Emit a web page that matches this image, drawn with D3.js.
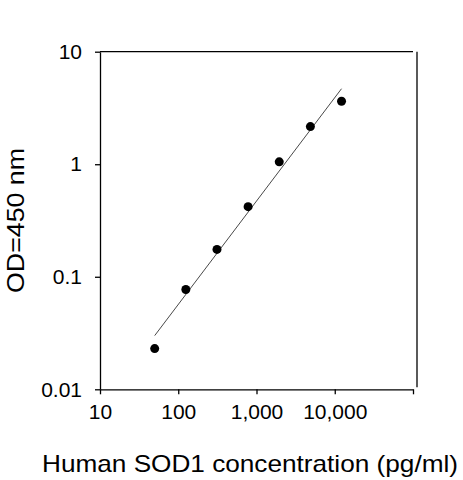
<!DOCTYPE html>
<html>
<head>
<meta charset="utf-8">
<script src="https://cdn.jsdelivr.net/npm/d3@7"></script>
<style>
  body { margin: 0; background: #fff; }
  svg { display: block; }
  text { font-family: Arial, "Liberation Sans", sans-serif; fill: #000; }
</style>
</head>
<body>
<div id="chart"></div>
<script>
// standard curve values
const concentrations = [50, 125, 312.5, 781.25, 1953, 4883, 12207];
const odValues = [0.023, 0.077, 0.175, 0.42, 1.05, 2.16, 3.63];

// fitted line endpoints
const fitConc = [50, 12207];
const fitOD = [0.030, 4.69];

const xTicks = [10, 100, 1000, 10000, 100000];
const xTickLabels = ["10", "100", "1,000", "10,000", ""];
const yTicks = [0.01, 0.1, 1, 10];
const yTickLabels = ["0.01", "0.1", "1", "10"];

const width = 463, height = 480;
const plotLeft = 100, plotRight = 413, plotTop = 51.7, plotBottom = 389.3;

const svg = d3.select('#chart').append('svg')
  .attr('width', width)
  .attr('height', height);

const x = d3.scaleLog().domain([10, 100000]).range([plotLeft, plotRight]);
const y = d3.scaleLog().domain([0.01, 10]).range([plotBottom, plotTop]);

// x axis
const xAxis = d3.axisBottom(x)
  .tickValues(xTicks)
  .tickFormat((d, i) => xTickLabels[i])
  .tickSizeInner(5)
  .tickSizeOuter(0)
  .tickPadding(10);

svg.append('g')
  .attr('transform', `translate(0,${plotBottom})`)
  .call(xAxis)
  .call(g => g.selectAll('text').style('font-size', '21px').attr('font-family', null))
  .call(g => g.selectAll('path, line').attr('stroke', '#000').attr('stroke-width', 1.3));

// y axis
const yAxis = d3.axisLeft(y)
  .tickValues(yTicks)
  .tickFormat((d, i) => yTickLabels[i])
  .tickSizeInner(5)
  .tickSizeOuter(0)
  .tickPadding(13);

svg.append('g')
  .attr('transform', `translate(${plotLeft},0)`)
  .call(yAxis)
  .call(g => g.selectAll('text').style('font-size', '21px').attr('font-family', null))
  .call(g => g.selectAll('path, line').attr('stroke', '#000').attr('stroke-width', 1.3));

// frame: top line and the slightly offset right line
svg.append('line')
  .attr('x1', plotLeft).attr('x2', plotRight)
  .attr('y1', plotTop).attr('y2', plotTop)
  .attr('stroke', '#000').attr('stroke-width', 1.3);

svg.append('line')
  .attr('x1', plotRight + 4).attr('x2', plotRight + 4)
  .attr('y1', plotTop).attr('y2', plotBottom - 2)
  .attr('stroke', '#000').attr('stroke-width', 1.3);

// fitted line
const line = d3.line()
  .x(d => x(d[0]))
  .y(d => y(d[1]));

svg.append('path')
  .datum(d3.zip(fitConc, fitOD))
  .attr('d', line)
  .attr('fill', 'none')
  .attr('stroke', '#333')
  .attr('stroke-width', 0.9);

// points
svg.selectAll('circle')
  .data(d3.zip(concentrations, odValues))
  .enter().append('circle')
  .attr('cx', d => x(d[0]))
  .attr('cy', d => y(d[1]))
  .attr('r', 4.5)
  .style('fill', '#000');

// axis titles
svg.append('text')
  .attr('x', 250)
  .attr('y', 472)
  .attr('text-anchor', 'middle')
  .attr('textLength', 416)
  .attr('lengthAdjust', 'spacingAndGlyphs')
  .style('font-size', '24px')
  .text('Human SOD1 concentration (pg/ml)');

svg.append('text')
  .attr('transform', 'translate(24,220.5) rotate(-90)')
  .attr('text-anchor', 'middle')
  .attr('textLength', 145)
  .attr('lengthAdjust', 'spacingAndGlyphs')
  .style('font-size', '24px')
  .text('OD=450 nm');
</script>
</body>
</html>
